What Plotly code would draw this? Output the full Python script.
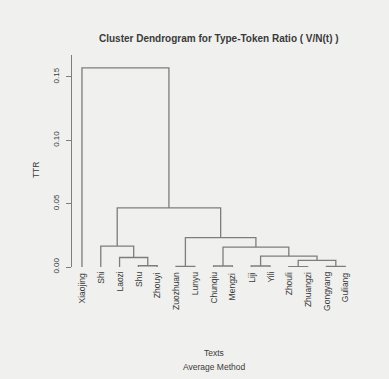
import plotly.graph_objects as go

# Texts in leaf order along the horizontal axis
texts = ["Xiaojing", "Shi", "Laozi", "Shu", "Zhouyi", "Zuozhuan", "Lunyu",
         "Chunqiu", "Mengzi", "Liji", "Yili", "Zhouli", "Zhuangzi",
         "Gongyang", "Guliang"]

# Agglomeration steps (R hclust convention: negative = leaf number, positive = earlier step)
merge_left = [-4, -3, -2, -6, -8, -10, -12, -14, 7, 6, 5, 4, 3, -1]
merge_right = [-5, 1, 2, -7, -9, -11, -13, -15, 8, 9, 10, 11, 12, 13]
merge_height = [0.001, 0.0075, 0.0165, 0.0005, 0.0008, 0.0008, 0.0003, 0.0005,
                0.0053, 0.0085, 0.0157, 0.0232, 0.0466, 0.157]

y_ticks = [0.00, 0.05, 0.10, 0.15]

LINE = "#7d7d7d"
TEXT = "#3a3a3a"
FONT = "Liberation Sans, Arial, sans-serif"

# position / height of each node
node_x, node_h = {}, {}


def node_pos(ref):
    if ref < 0:
        return float(-ref), 0.0
    return node_x[ref], node_h[ref]


xs, ys = [], []
for step, (a, b, h) in enumerate(zip(merge_left, merge_right, merge_height), start=1):
    xa, ha = node_pos(a)
    xb, hb = node_pos(b)
    xs += [xa, xa, xb, xb, None]
    ys += [ha, h, h, hb, None]
    node_x[step] = (xa + xb) / 2
    node_h[step] = h

fig = go.Figure()
fig.add_trace(go.Scatter(x=xs, y=ys, mode="lines",
                         line=dict(color=LINE, width=1.3),
                         hoverinfo="skip", showlegend=False))

annotations = []
for i, name in enumerate(texts, start=1):
    annotations.append(dict(x=i, y=0, xref="x", yref="y", text=name,
                            textangle=-90, showarrow=False,
                            xanchor="center", yanchor="top", yshift=-3,
                            font=dict(size=8.5, color=TEXT, family=FONT)))

annotations += [
    dict(x=0.5, y=1.0, xref="paper", yref="paper", xanchor="center",
         yanchor="bottom", yshift=9, xshift=5, showarrow=False,
         text="<b>Cluster Dendrogram for Type-Token Ratio ( V/N(t) )</b>",
         font=dict(size=10, color=TEXT, family=FONT)),
    dict(x=-0.125, y=0.46, xref="paper", yref="paper", showarrow=False,
         text="TTR", textangle=-90, xanchor="center", yanchor="middle",
         font=dict(size=8.5, color=TEXT, family=FONT)),
    dict(x=0.5, y=-0.438, xref="paper", yref="paper", showarrow=False,
         text="Texts", xanchor="center",
         font=dict(size=8.5, color=TEXT, family=FONT)),
    dict(x=0.5, y=-0.503, xref="paper", yref="paper", showarrow=False,
         text="Average Method", xanchor="center",
         font=dict(size=8.5, color=TEXT, family=FONT)),
]

fig.update_layout(
    width=389, height=379,
    margin=dict(l=72, r=34, t=55, b=112),
    paper_bgcolor="#f0f0ee", plot_bgcolor="#f0f0ee",
    annotations=annotations,
    xaxis=dict(range=[0.47, 15.52], visible=False, showgrid=False, zeroline=False),
    yaxis=dict(range=[0, 0.1672], tickvals=y_ticks, tickformat=".2f",
               showgrid=False, zeroline=False, showline=True,
               linecolor=LINE, linewidth=1.3, ticks="outside", ticklen=5,
               tickcolor=LINE, tickwidth=1.2, tickangle=-90,
               ticklabelstandoff=4,
               tickfont=dict(size=8, color=TEXT, family=FONT)),
)

fig.write_html("out.html")
